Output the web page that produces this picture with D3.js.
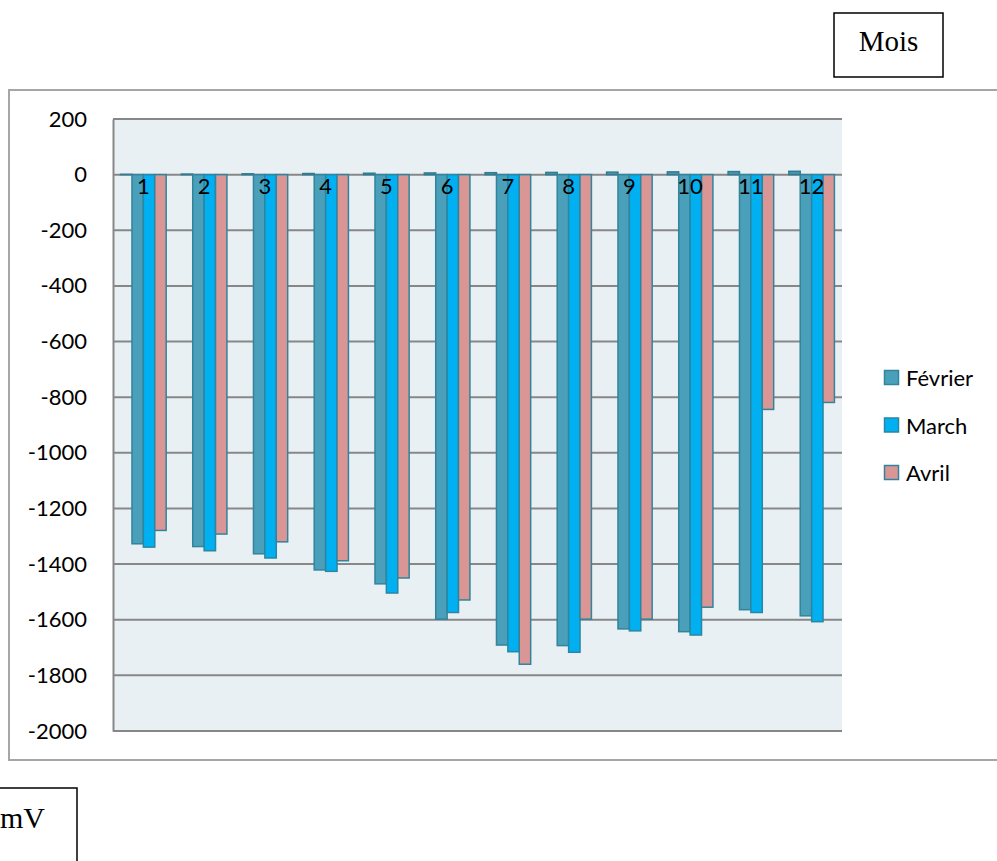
<!DOCTYPE html>
<html>
<head>
<meta charset="utf-8">
<script src="https://cdn.jsdelivr.net/npm/d3@7"></script>
<style>
  html, body { margin: 0; padding: 0; background: #ffffff; }
  svg { display: block; }
</style>
</head>
<body>
<svg id="chart" width="997" height="861"></svg>
<script>
// Monthly measurements (mV), one group of bars per month
const months = ["1","2","3","4","5","6","7","8","9","10","11","12"];
const seriesNames = ["Mois", "Février", "March", "Avril"];
const moisValues    = [1, 2, 3, 4, 5, 6, 7, 8, 9, 10, 11, 12];
const fevrierValues = [-1327, -1337, -1363, -1421, -1471, -1598, -1691, -1693, -1633, -1643, -1564, -1586];
const marchValues   = [-1339, -1352, -1378, -1426, -1504, -1574, -1715, -1717, -1640, -1655, -1574, -1607];
const avrilValues   = [-1279, -1292, -1320, -1388, -1450, -1529, -1760, -1598, -1598, -1555, -844, -819];
const yTicks = [200, 0, -200, -400, -600, -800, -1000, -1200, -1400, -1600, -1800, -2000];
const legendNames = ["Février", "March", "Avril"];

const seriesValues = [moisValues, fevrierValues, marchValues, avrilValues];
const fills   = { "Mois": "#4b97ad", "Février": "#4a9fba", "March": "#00b0f0", "Avril": "#d99694" };
const strokes = { "Mois": "#2f7d94", "Février": "#31849b", "March": "#2a86a2", "Avril": "#31849b" };

const rows = months.map((m, i) => ({
  month: m,
  values: seriesNames.map((s, k) => ({ series: s, value: seriesValues[k][i] }))
}));

const svg = d3.select("#chart");
const font = "Lato, 'Open Sans', sans-serif";

// outer chart frame
svg.append("rect")
  .attr("x", 9).attr("y", 90).attr("width", 1000).attr("height", 670)
  .attr("fill", "#ffffff").attr("stroke", "#a6a6a6").attr("stroke-width", 2);

const plot = { left: 113, right: 842, top: 119, bottom: 731 };

const y = d3.scaleLinear().domain([-2000, 200]).range([plot.bottom, plot.top]);
const x = d3.scaleBand().domain(months).range([plot.left, plot.right]).padding(0);
const xs = d3.scaleBand().domain(seriesNames).range([0, x.bandwidth()])
  .paddingInner(0).paddingOuter(0.665);

// plot area background
svg.append("rect")
  .attr("x", plot.left).attr("y", plot.top)
  .attr("width", plot.right - plot.left).attr("height", plot.bottom - plot.top)
  .attr("fill", "#e8f0f4");

// horizontal gridlines
svg.append("g")
  .selectAll("line").data(yTicks).join("line")
  .attr("x1", plot.left).attr("x2", plot.right)
  .attr("y1", d => y(d)).attr("y2", d => y(d))
  .attr("stroke", "#878787").attr("stroke-width", 2);

// value axis (plain hyphen for negatives)
const yAxis = svg.append("g")
  .attr("transform", `translate(${plot.left},0)`)
  .call(d3.axisLeft(y).tickValues(yTicks).tickSize(0).tickPadding(26).tickFormat(d => String(d)));
yAxis.select(".domain").attr("stroke", "#878787").attr("stroke-width", 2);
yAxis.selectAll("text")
  .attr("font-family", font).attr("font-size", 22).attr("fill", "#000");

// bars
const groups = svg.append("g").selectAll("g").data(rows).join("g")
  .attr("transform", d => `translate(${x(d.month)},0)`);

groups.selectAll("rect").data(d => d.values).join("rect")
  .attr("x", d => xs(d.series))
  .attr("width", xs.bandwidth())
  .attr("y", d => y(Math.max(0, d.value)))
  .attr("height", d => Math.abs(y(d.value) - y(0)))
  .attr("fill", d => fills[d.series])
  .attr("stroke", d => strokes[d.series])
  .attr("stroke-width", 1.5);

// category labels sitting just below the zero line
svg.append("g").selectAll("text").data(months).join("text")
  .attr("x", d => x(d) + x.bandwidth() / 2)
  .attr("y", y(0) + 19)
  .attr("text-anchor", "middle")
  .attr("font-family", font).attr("font-size", 22).attr("fill", "#000")
  .text(d => d);

// legend
const legend = svg.append("g").selectAll("g").data(legendNames).join("g")
  .attr("transform", (d, i) => `translate(884,${378 + i * 47.5})`);
legend.append("rect")
  .attr("x", 0.5).attr("y", -7.5).attr("width", 14).attr("height", 14)
  .attr("fill", d => fills[d]).attr("stroke", d => strokes[d]).attr("stroke-width", 1.5);
legend.append("text")
  .attr("x", 22).attr("y", 8)
  .attr("font-family", font).attr("font-size", 22).attr("fill", "#000")
  .text(d => d);

// axis title boxes
svg.append("rect")
  .attr("x", 834).attr("y", 13).attr("width", 109).attr("height", 64)
  .attr("fill", "#fff").attr("stroke", "#000").attr("stroke-width", 1.5);
svg.append("text")
  .attr("x", 888.5).attr("y", 51)
  .attr("text-anchor", "middle")
  .attr("font-family", "'Liberation Serif', 'Times New Roman', serif").attr("font-size", 29)
  .text("Mois");

svg.append("rect")
  .attr("x", -10).attr("y", 788).attr("width", 87).attr("height", 90)
  .attr("fill", "#fff").attr("stroke", "#000").attr("stroke-width", 1.5);
svg.append("text")
  .attr("x", 45).attr("y", 828)
  .attr("text-anchor", "end")
  .attr("font-family", "'Liberation Serif', 'Times New Roman', serif").attr("font-size", 30)
  .text("mV");
</script>
</body>
</html>
